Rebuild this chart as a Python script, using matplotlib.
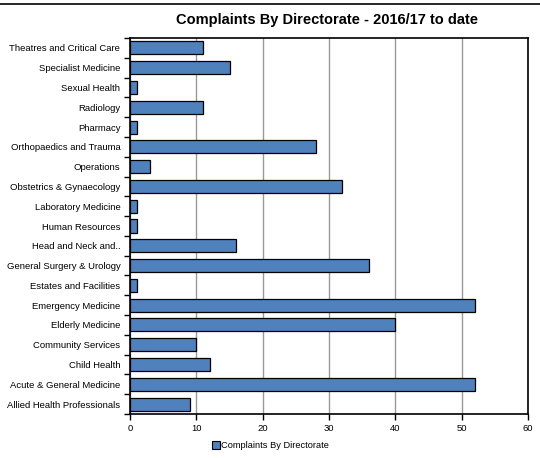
import matplotlib
matplotlib.use("Agg")
import matplotlib.pyplot as plt
from matplotlib.lines import Line2D

categories = [
    "Theatres and Critical Care", "Specialist Medicine", "Sexual Health", "Radiology",
    "Pharmacy", "Orthopaedics and Trauma", "Operations", "Obstetrics & Gynaecology",
    "Laboratory Medicine", "Human Resources", "Head and Neck and..",
    "General Surgery & Urology", "Estates and Facilities", "Emergency Medicine",
    "Elderly Medicine", "Community Services", "Child Health",
    "Acute & General Medicine", "Allied Health Professionals",
]
values = [11, 15, 1, 11, 1, 28, 3, 32, 1, 1, 16, 36, 1, 52, 40, 10, 12, 52, 9]
x_ticks = [0, 10, 20, 30, 40, 50, 60]
series_name = "Complaints By Directorate"
title = "Complaints By Directorate - 2016/17 to date"

plt.rcParams['font.family'] = ['Liberation Sans', 'DejaVu Sans']

fig = plt.figure(figsize=(5.4, 4.58), dpi=100)
ax = fig.add_axes([130/540, 1 - 414/458, (528-130)/540, (414-38)/458])

n = len(categories)
pos = list(range(n))[::-1]
ax.barh(pos, values, height=0.66, color="#4F81BD", edgecolor="black", linewidth=0.9, zorder=3)
ax.set_ylim(-0.5, n - 0.5)
ax.set_xlim(0, 60)
ax.set_xticks(x_ticks)
ax.set_xticklabels([str(t) for t in x_ticks], fontsize=6.8)
ax.set_yticks(pos)
ax.set_yticklabels(categories, fontsize=6.8)
ax.tick_params(axis='y', length=0, pad=7)
ax.tick_params(axis='x', length=4, width=1, direction='out', pad=3)
ax.set_yticks([p - 0.5 for p in range(n + 1)], minor=True)
ax.tick_params(axis='y', which='minor', length=4, width=1, direction='out')
ax.grid(axis='x', color='#999999', linewidth=1, zorder=0)
for s in ax.spines.values():
    s.set_linewidth(1.2)
    s.set_color('black')

fig.text(327/540, 1 - 20/458, title, ha='center', va='center', fontsize=10.5, fontweight='bold')

handle = Line2D([], [], marker='s', linestyle='none', markersize=5.5,
                markerfacecolor="#4F81BD", markeredgecolor="black", markeredgewidth=0.8)
fig.legend([handle], [series_name], loc='center', bbox_to_anchor=(0.5, 1 - 446/458),
           frameon=False, fontsize=6.7, handletextpad=0.0, borderpad=0, handlelength=1.0)

fig.add_artist(Line2D([0, 1], [1 - 4/458, 1 - 4/458], color='black', linewidth=1.2, transform=fig.transFigure))

fig.savefig("out.png", dpi=100)
